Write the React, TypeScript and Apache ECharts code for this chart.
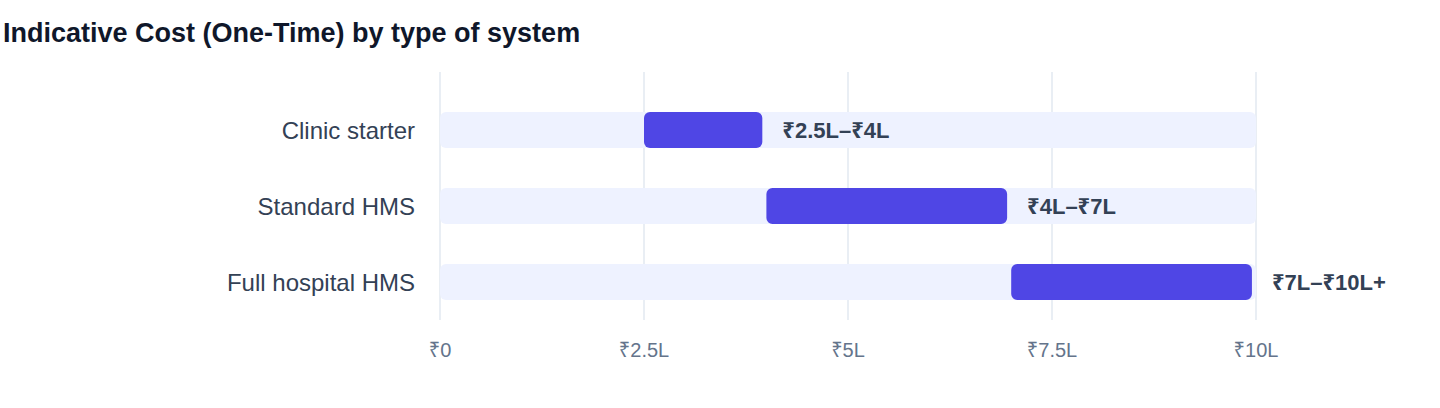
import React, { useEffect, useRef } from 'react';
import * as echarts from 'echarts';

const systemTypes = ['Clinic starter', 'Standard HMS', 'Full hospital HMS'];
const rangeStart = [2.5, 4, 7];
const rangeEnd = [3.95, 6.95, 9.95];
const rangeLabels = ['₹2.5L–₹4L', '₹4L–₹7L', '₹7L–₹10L+'];
const tickLabels = ['₹0', '₹2.5L', '₹5L', '₹7.5L', '₹10L'];

const FONT = '"Liberation Sans", "Noto Sans", "DejaVu Sans", sans-serif';

const App: React.FC = () => {
  const chartRef = useRef<HTMLDivElement | null>(null);

  useEffect(() => {
    document.body.style.margin = '0';
    if (!chartRef.current) return;
    const chart = echarts.init(chartRef.current, undefined, { renderer: 'svg' });

    const option = {
      animation: false,
      textStyle: { fontFamily: FONT },
      title: {
        text: 'Indicative Cost (One-Time) by type of system',
        left: 3,
        top: 19,
        padding: 0,
        textStyle: { fontSize: 27, fontWeight: 'bold', color: '#0f172a', fontFamily: FONT },
      },
      grid: [
        { left: 440, right: 184, top: 72, bottom: 88 },
        { left: 440, right: 184, top: 92, bottom: 88 },
      ],
      xAxis: [
        {
          gridIndex: 0,
          type: 'value',
          min: 0,
          max: 10,
          interval: 2.5,
          axisLine: { show: false },
          axisTick: { show: false },
          splitLine: { show: true, lineStyle: { color: '#e2e8f0', width: 1.5 } },
          axisLabel: {
            margin: 20,
            fontSize: 20,
            color: '#64748b',
            fontFamily: FONT,
            formatter: (_v: number, i: number) => tickLabels[i],
          },
        },
        {
          gridIndex: 1,
          type: 'value',
          min: 0,
          max: 10,
          show: false,
        },
      ],
      yAxis: [
        {
          gridIndex: 0,
          type: 'category',
          data: systemTypes,
          show: false,
        },
        {
          gridIndex: 1,
          type: 'category',
          data: systemTypes,
          inverse: true,
          axisLine: { show: false },
          axisTick: { show: false },
          splitLine: { show: false },
          axisLabel: { margin: 25, fontSize: 24, color: '#334155', fontFamily: FONT },
        },
      ],
      series: [
        {
          name: 'offset',
          type: 'bar',
          xAxisIndex: 1,
          yAxisIndex: 1,
          stack: 'range',
          barWidth: 36,
          data: rangeStart,
          itemStyle: { color: 'transparent' },
          showBackground: true,
          backgroundStyle: { color: '#eef2ff', borderRadius: 6 },
          silent: true,
        },
        {
          name: 'range',
          type: 'bar',
          xAxisIndex: 1,
          yAxisIndex: 1,
          stack: 'range',
          barWidth: 36,
          data: rangeEnd.map((e, i) => +(e - rangeStart[i]).toFixed(2)),
          itemStyle: { color: '#4f46e5', borderRadius: 6 },
          label: {
            show: true,
            position: 'right',
            distance: 20,
            fontSize: 22,
            fontWeight: 'bold',
            color: '#334155',
            fontFamily: FONT,
            formatter: (p: { dataIndex: number }) => rangeLabels[p.dataIndex],
          },
        },
      ],
    };

    chart.setOption(option);
    return () => {
      chart.dispose();
    };
  }, []);

  return <div ref={chartRef} style={{ width: 1440, height: 408 }} />;
};

export default App;
